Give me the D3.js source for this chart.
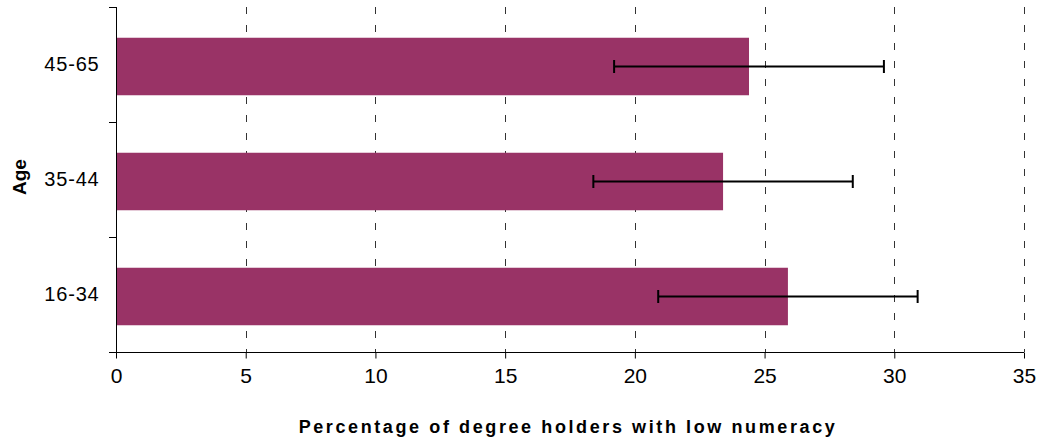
<!DOCTYPE html>
<html><head><meta charset="utf-8">
<script src="https://cdn.jsdelivr.net/npm/d3@7"></script>
<style>body{margin:0;background:#fff}svg{display:block}text{font-family:"Liberation Sans",Arial,sans-serif}</style>
</head><body><svg id="c" width="1040" height="443"></svg>
<script>
const categories = ["45-65", "35-44", "16-34"];
const values = [24.4, 23.4, 25.9];
const errLow = [19.2, 18.4, 20.9];
const errHigh = [29.6, 28.4, 30.9];
const xTicks = [0, 5, 10, 15, 20, 25, 30, 35];
const xTitle = "Percentage of degree holders with low numeracy";
const yTitle = "Age";

const svg = d3.select("#c");
const m = {l:116, r:16, t:7, b:91};
const W = 1040, H = 443;
const x = d3.scaleLinear().domain([0,35]).range([m.l, W - m.r]);
const y = d3.scaleBand().domain(categories).range([m.t, H - m.b]).paddingInner(0.5).paddingOuter(0.25);
const step = y.step();

// gridlines
svg.append("g").selectAll("line").data(xTicks.filter(d=>d>0)).join("line")
  .attr("x1", d=>Math.round(x(d))+0.5).attr("x2", d=>Math.round(x(d))+0.5)
  .attr("y1", m.t).attr("y2", H - m.b)
  .attr("stroke", "#333").attr("stroke-width", 1).attr("stroke-dasharray", "7,11");

// bars
const data = categories.map((c,i)=>({c, v:values[i], lo:errLow[i], hi:errHigh[i]}));
svg.append("g").selectAll("rect").data(data).join("rect")
  .attr("x", x(0)).attr("y", d=>y(d.c)+2).attr("width", d=>x(d.v)-x(0)).attr("height", y.bandwidth())
  .attr("fill", "#993366");

// error bars
const eb = svg.append("g").selectAll("g").data(data).join("g")
  .attr("transform", d=>`translate(0,${y(d.c)+2+y.bandwidth()/2})`);
eb.append("line").attr("x1", d=>x(d.lo)).attr("x2", d=>x(d.hi)).attr("y1",0).attr("y2",0).attr("stroke","#000").attr("stroke-width",2);
eb.append("line").attr("x1", d=>x(d.lo)).attr("x2", d=>x(d.lo)).attr("y1",-6.5).attr("y2",6.5).attr("stroke","#000").attr("stroke-width",2);
eb.append("line").attr("x1", d=>x(d.hi)).attr("x2", d=>x(d.hi)).attr("y1",-6.5).attr("y2",6.5).attr("stroke","#000").attr("stroke-width",2);

// x axis
const xa = svg.append("g").attr("transform", `translate(0,${H - m.b + 0.5})`)
  .call(d3.axisBottom(x).tickValues(xTicks).tickSize(6).tickSizeOuter(0).tickPadding(10));
xa.select(".domain").attr("d", `M${m.l-7},0H${W-m.r}`).attr("stroke","#000");
xa.selectAll(".tick line").attr("stroke","#000");
xa.selectAll("text").attr("font-size", 21).attr("fill","#000").style("font-family","Liberation Sans, Arial, sans-serif");

// y axis
const ya = svg.append("g").attr("transform", `translate(${m.l+0.5},0)`)
  .call(d3.axisLeft(y).tickSize(0).tickPadding(17));
ya.select(".domain").attr("d", `M0,${m.t}V${H - m.b + 6}`).attr("stroke","#000");
ya.selectAll("text").attr("font-size", 20).attr("letter-spacing", "0.8px").attr("fill","#000").style("font-family","Liberation Sans, Arial, sans-serif");
// y category boundary ticks
const bounds = d3.range(categories.length+1).map(i=>m.t + i*step);
svg.append("g").selectAll("line").data(bounds).join("line")
  .attr("x1", m.l-7).attr("x2", m.l).attr("y1", d=>Math.round(d)+0.5).attr("y2", d=>Math.round(d)+0.5)
  .attr("stroke","#000");

// titles
svg.append("text").attr("x", 568).attr("y", 432.5).attr("text-anchor","middle")
  .attr("font-size", 18).attr("font-weight","bold").attr("letter-spacing", "2.6px").text(xTitle);
svg.append("text").attr("transform", `translate(26,177) rotate(-90)`).attr("text-anchor","middle")
  .attr("font-size", 19).attr("font-weight","bold").text(yTitle);
</script></body></html>
